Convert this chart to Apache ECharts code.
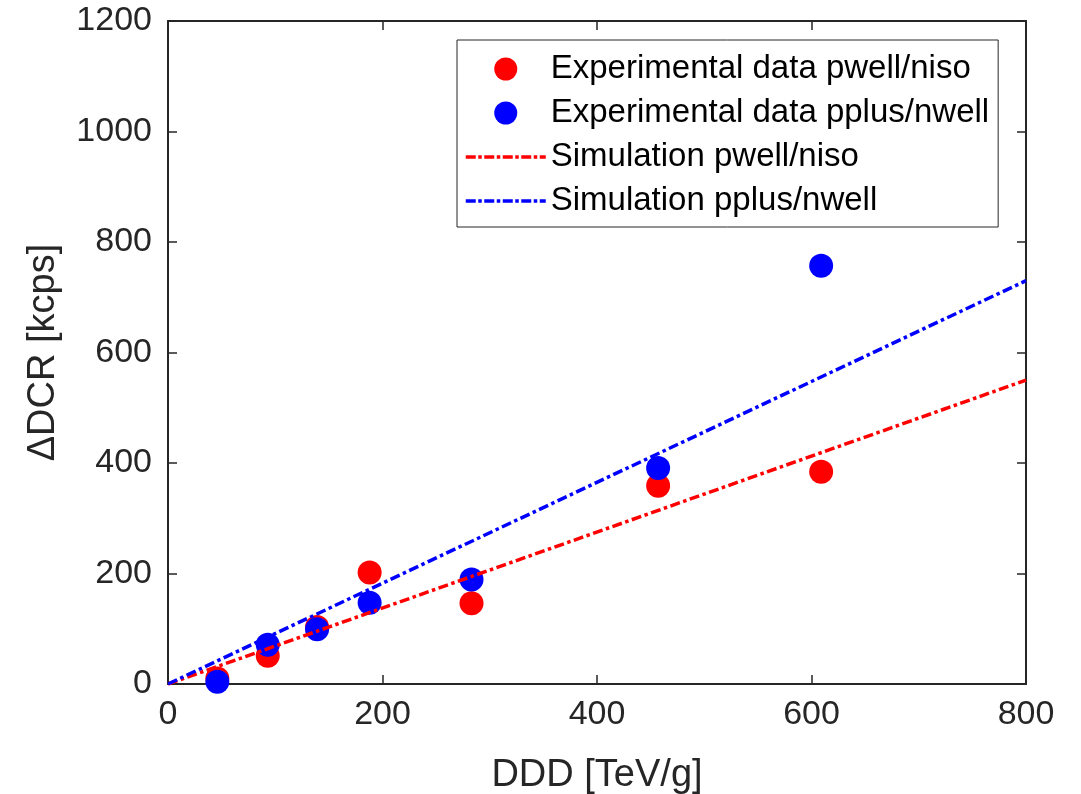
<!DOCTYPE html>
<html>
<head>
<meta charset="utf-8">
<script src="https://cdn.jsdelivr.net/npm/echarts@6/dist/echarts.min.js"></script>
<style>html,body{margin:0;padding:0;background:#fff;}#main{width:1081px;height:794px;}</style>
</head>
<body>
<div id="main"></div>
<script>
const ddd = [46, 93, 139, 188, 283, 457, 609];
const expPwell = [10, 51, 103, 202, 146, 359, 384];
const expPplus = [4, 71, 99, 147, 189, 391, 757];
const simX = [0, 800];
const simPwell = [0, 550];
const simPplus = [0, 730];
const seriesNames = ['Experimental data pwell/niso', 'Experimental data pplus/nwell', 'Simulation pwell/niso', 'Simulation pplus/nwell'];
const xTicks = [0, 200, 400, 600, 800];
const yTicks = [0, 200, 400, 600, 800, 1000, 1200];

const pair = (xs, ys) => xs.map((x, i) => [x, ys[i]]);
const FONT = '"Liberation Sans", Arial, Helvetica, sans-serif';
const AX = '#262626';
const DASH = [10, 3.5, 3.5, 3.5];

const baseAxis = {
  axisLine: {show: true, onZero: false, lineStyle: {color: AX, width: 2}},
  axisTick: {show: true, inside: true, length: 9, lineStyle: {color: AX, width: 1.5}},
  splitLine: {show: false}
};
const fmt = v => String(v);

const chart = echarts.init(document.getElementById('main'), null, {renderer: 'canvas'});
chart.setOption({
  animation: false,
  backgroundColor: '#fff',
  grid: {left: 168, right: 55, top: 21, bottom: 110, containLabel: false, outerBoundsMode: 'none'},
  xAxis: [
    Object.assign({}, baseAxis, {
      type: 'value', min: xTicks[0], max: xTicks[xTicks.length - 1], interval: 200,
      position: 'bottom',
      name: 'DDD [TeV/g]', nameLocation: 'middle', nameGap: 73,
      nameTextStyle: {fontFamily: FONT, fontSize: 38, color: AX},
      axisLabel: {fontFamily: FONT, fontSize: 34, color: AX, margin: 14, formatter: fmt}
    }),
    Object.assign({}, baseAxis, {
      type: 'value', min: xTicks[0], max: xTicks[xTicks.length - 1], interval: 200,
      position: 'top', axisLabel: {show: false}
    })
  ],
  yAxis: [
    Object.assign({}, baseAxis, {
      type: 'value', min: yTicks[0], max: yTicks[yTicks.length - 1], interval: 200,
      position: 'left',
      name: 'ΔDCR [kcps]', nameLocation: 'middle', nameGap: 105,
      nameTextStyle: {fontFamily: FONT, fontSize: 38, color: AX},
      axisLabel: {fontFamily: FONT, fontSize: 34, color: AX, margin: 16, formatter: fmt}
    }),
    Object.assign({}, baseAxis, {
      type: 'value', min: yTicks[0], max: yTicks[yTicks.length - 1], interval: 200,
      position: 'right', axisLabel: {show: false}
    })
  ],
  legend: {
    left: 457, top: 40, orient: 'vertical',
    itemWidth: 80, itemHeight: 23, itemGap: 10,
    padding: [12, 9, 9, 7],
    backgroundColor: '#fff', borderColor: AX, borderWidth: 1,
    textStyle: {fontFamily: FONT, fontSize: 33, color: '#000', lineHeight: 34},
    data: [
      {name: seriesNames[0]},
      {name: seriesNames[1]},
      {name: seriesNames[2], itemStyle: {opacity: 0, color: 'rgba(0,0,0,0)'},
       lineStyle: {color: '#ff0000', width: 3.5, type: [10, 2.5, 3.5, 2.5]}},
      {name: seriesNames[3], itemStyle: {opacity: 0, color: 'rgba(0,0,0,0)'},
       lineStyle: {color: '#0000ff', width: 3.5, type: [10, 2.5, 3.5, 2.5]}}
    ]
  },
  series: [
    {name: seriesNames[0], type: 'scatter', data: pair(ddd, expPwell), symbol: 'circle', symbolSize: 24,
     itemStyle: {color: '#ff0000', opacity: 1}, z: 2},
    {name: seriesNames[1], type: 'scatter', data: pair(ddd, expPplus), symbol: 'circle', symbolSize: 24,
     itemStyle: {color: '#0000ff', opacity: 1}, z: 3},
    {name: seriesNames[2], type: 'line', data: pair(simX, simPwell), symbol: 'none', showSymbol: false,
     lineStyle: {color: '#ff0000', width: 3.5, type: DASH}, itemStyle: {color: '#ff0000'}, z: 4},
    {name: seriesNames[3], type: 'line', data: pair(simX, simPplus), symbol: 'none', showSymbol: false,
     lineStyle: {color: '#0000ff', width: 3.5, type: DASH}, itemStyle: {color: '#0000ff'}, z: 5}
  ]
});
</script>
</body>
</html>
